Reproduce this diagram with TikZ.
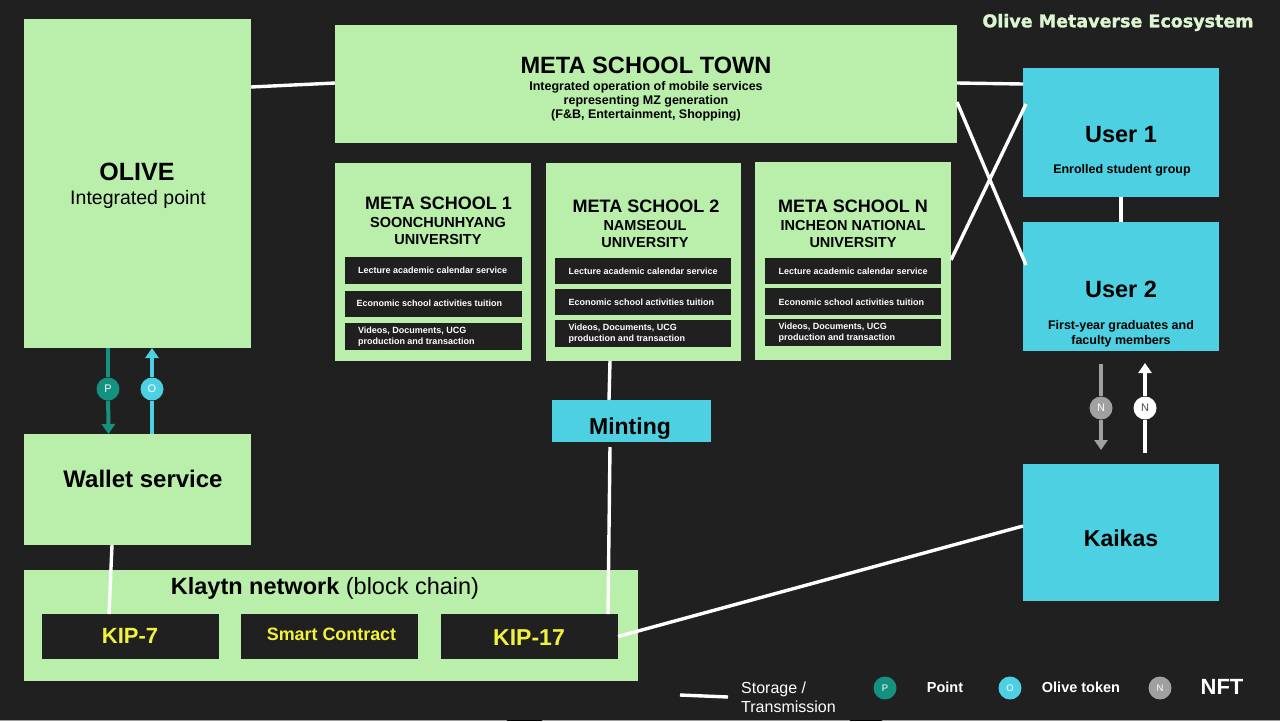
\documentclass[tikz,border=0pt]{standalone}
\usepackage{fontspec}
\setmainfont{Liberation Sans}
\newfontfamily\widefont{DejaVu Sans Bold}[FakeBold=1.6]
\usetikzlibrary{arrows.meta}
\definecolor{bgc}{HTML}{202020}
\definecolor{grn}{HTML}{B9EFAA}
\definecolor{ttl}{HTML}{DDF6D2}
\definecolor{cyn}{HTML}{4DD0E1}
\definecolor{teal1}{HTML}{14917F}
\definecolor{gry}{HTML}{A0A0A0}
\definecolor{yel}{HTML}{F2F23A}
\newcommand{\fs}[1]{\fontsize{#1}{#1}\selectfont}
\tikzset{
 x=1pt,y=-1pt,
 gbox/.style={fill=grn,draw=none,inner sep=0,outer sep=0},
 cbox/.style={fill=cyn,draw=none,inner sep=0,outer sep=0},
 dbox/.style={fill=bgc,draw=none,inner sep=0,outer sep=0},
 lbl/.style={inner sep=0,outer sep=0,text=black,align=center,font=\bfseries},
 wlbl/.style={inner sep=0,outer sep=0,text=white,align=left,font=\bfseries\fs{9}},
 link/.style={draw=white,line width=3.4pt},
 shaft/.style={line width=4pt},
 flow/.style={line width=4pt,-{Triangle[length=10pt,width=13pt]}},
 disc/.style={circle,minimum size=23pt,inner sep=0,font=\fs{11}},
 ldisc/.style={circle,minimum size=23pt,inner sep=0,font=\fs{9.5}},
}
\begin{document}
\begin{tikzpicture}
\useasboundingbox (0,0) rectangle (1280,721);
\fill[bgc] (0,0) rectangle (1280,721);
% green boxes
\node[gbox,anchor=north west,minimum width=227pt,minimum height=329pt] (olive) at (24,19) {};
\node[gbox,anchor=north west,minimum width=622pt,minimum height=118pt] (town) at (335,25) {};
\node[gbox,anchor=north west,minimum width=196pt,minimum height=198pt] (s1) at (335,163) {};
\node[gbox,anchor=north west,minimum width=195pt,minimum height=198pt] (s2) at (546,163) {};
\node[gbox,anchor=north west,minimum width=196pt,minimum height=198pt] (sn) at (755,162) {};
\node[gbox,anchor=north west,minimum width=227pt,minimum height=111pt] (wallet) at (24,434) {};
\node[gbox,anchor=north west,minimum width=614pt,minimum height=111pt] (klaytn) at (24,570) {};
% cyan boxes
\node[cbox,anchor=north west,minimum width=196pt,minimum height=129pt] (u1) at (1023,68) {};
\node[cbox,anchor=north west,minimum width=196pt,minimum height=129pt] (u2) at (1023,222) {};
\node[cbox,anchor=north west,minimum width=196pt,minimum height=137pt] (kaikas) at (1023,464) {};
\node[cbox,anchor=north west,minimum width=159pt,minimum height=42pt] (mint) at (552,400) {};
% dark boxes
\node[dbox,anchor=north west,minimum width=177pt,minimum height=45pt] (kip7) at (42,614) {};
\node[dbox,anchor=north west,minimum width=177pt,minimum height=45pt] (sc) at (241,614) {};
\node[dbox,anchor=north west,minimum width=177pt,minimum height=45pt] (kip17) at (441,614) {};
\node[dbox,anchor=north west,minimum width=177pt,minimum height=27pt] (a1) at (345,257) {};
\node[dbox,anchor=north west,minimum width=177pt,minimum height=26pt] (a2) at (345,291) {};
\node[dbox,anchor=north west,minimum width=177pt,minimum height=27pt] (a3) at (345,323) {};
\node[dbox,anchor=north west,minimum width=176pt,minimum height=26pt] (b1) at (555,258) {};
\node[dbox,anchor=north west,minimum width=176pt,minimum height=26pt] (b2) at (555,289) {};
\node[dbox,anchor=north west,minimum width=176pt,minimum height=27pt] (b3) at (555,320) {};
\node[dbox,anchor=north west,minimum width=176pt,minimum height=26pt] (c1) at (765,258) {};
\node[dbox,anchor=north west,minimum width=176pt,minimum height=27pt] (c2) at (765,288) {};
\node[dbox,anchor=north west,minimum width=176pt,minimum height=27pt] (c3) at (765,319) {};
% connectors
\draw[link] ([yshift=-68pt]olive.north east) -- ([yshift=-58pt]town.north west);
\draw[link] ([yshift=-58pt]town.north east) -- ([yshift=-16pt]u1.north west);
\draw[link] ([yshift=-77pt]town.north east) -- ([shift={(3pt,-43pt)}]u2.north west);
\draw[link] ([yshift=-98pt]sn.north east) -- ([shift={(3pt,-36pt)}]u1.north west);
\draw[link] (u1.south) -- (u2.north);
\draw[link] ([xshift=64pt]s2.south west) -- ([xshift=57pt]mint.north west);
\draw[link] ([shift={(58pt,-5pt)}]mint.south west) -- ([xshift=167pt]kip17.north west);
\draw[link] ([xshift=88pt]wallet.south west) -- ([xshift=67pt]kip7.north west);
\draw[link] (kip17.east) -- ([yshift=-62pt]kaikas.north west);
% flows
\node[disc,fill=teal1,text=white] (p) at (108,389) {P};
\node[disc,fill=cyn,text=white] (o) at (152,389) {O};
\node[disc,fill=gry,text=white] (n1) at (1101,408) {N};
\node[disc,fill=white,text=black!70] (n2) at (1145,408) {N};
\draw[shaft,teal1] ([xshift=84pt]olive.south west) -- (p);
\draw[flow,teal1] (p) -- ([xshift=84.5pt]wallet.north west);
\draw[shaft,cyn] ([xshift=128pt]wallet.north west) -- (o);
\draw[flow,cyn] (o) -- ([xshift=128pt]olive.south west);
\draw[shaft,gry] ([shift={(78pt,-13pt)}]u2.south west) -- (n1);
\draw[flow,gry] (n1) -- ([shift={(78pt,14pt)}]kaikas.north west);
\draw[shaft,white] ([shift={(122pt,11pt)}]kaikas.north west) -- (n2);
\draw[flow,white] (n2) -- ([shift={(122pt,-12pt)}]u2.south west);
% labels
\node[lbl,font=\bfseries\fs{25}] (tolive) at (137,172) {OLIVE};
\node[lbl,font=\fs{19.5}] (tint) at (138,199) {Integrated point};
\node[lbl,font=\bfseries\fs{23.6}] (ttown) at (646,65) {META SCHOOL TOWN};
\node[lbl,font=\bfseries\fs{12.5}] (ttown2) at (646,101.5) {Integrated operation of mobile services\\[1.5pt]representing MZ generation\\[1.5pt](F\&B, Entertainment, Shopping)};
\node[lbl,font=\bfseries\fs{18}] (ts1) at (438.5,203) {META SCHOOL 1};
\node[lbl,font=\bfseries\fs{14.5}] (ts1b) at (438,231) {SOONCHUNHYANG\\[3pt]UNIVERSITY};
\node[lbl,font=\bfseries\fs{18}] (ts2) at (646,206) {META SCHOOL 2};
\node[lbl,font=\bfseries\fs{14.5}] (ts2b) at (645,234) {NAMSEOUL\\[3pt]UNIVERSITY};
\node[lbl,font=\bfseries\fs{18}] (tsn) at (853,206) {META SCHOOL N};
\node[lbl,font=\bfseries\fs{14.5}] (tsnb) at (853,234) {INCHEON NATIONAL\\[3pt]UNIVERSITY};
\node[wlbl,anchor=west] at (358,270) {Lecture academic calendar service};
\node[wlbl,anchor=west] at (356.5,303.5) {Economic school activities tuition};
\node[wlbl,anchor=west] at (358,337) {Videos, Documents, UCG\\[1.8pt]production and transaction};
\node[wlbl,anchor=west] at (568.5,271.5) {Lecture academic calendar service};
\node[wlbl,anchor=west] at (568.5,302) {Economic school activities tuition};
\node[wlbl,anchor=west] at (568.5,334) {Videos, Documents, UCG\\[1.8pt]production and transaction};
\node[wlbl,anchor=west] at (778.5,271.5) {Lecture academic calendar service};
\node[wlbl,anchor=west] at (778.5,302) {Economic school activities tuition};
\node[wlbl,anchor=west] at (778.5,333) {Videos, Documents, UCG\\[1.8pt]production and transaction};
\node[lbl,font=\bfseries\fs{23}] (tmint) at (630,428.5) {Minting};
\node[lbl,font=\bfseries\fs{24}] (twal) at (143,479) {Wallet service};
\node[lbl,font=\fs{23.5}] (tkl) at (325,588) {\textbf{Klaytn network} (block chain)};
\node[lbl,font=\bfseries\fs{22},text=yel] (t7) at (130,635.5) {KIP-7};
\node[lbl,font=\bfseries\fs{17.9},text=yel] (tsc) at (331.5,634) {Smart Contract};
\node[lbl,font=\bfseries\fs{23},text=yel] (t17) at (529,637.5) {KIP-17};
\node[lbl,font=\bfseries\fs{23.5}] (tu1) at (1121,134.5) {User 1};
\node[lbl,font=\bfseries\fs{12.5}] (tu1b) at (1122,170.5) {Enrolled student group};
\node[lbl,font=\bfseries\fs{23.5}] (tu2) at (1121,289.5) {User 2};
\node[lbl,font=\bfseries\fs{12.5}] (tu2b) at (1121,334) {First-year graduates and\\[3pt]faculty members};
\node[lbl,font=\bfseries\fs{23}] (tk) at (1121,538) {Kaikas};
\node[inner sep=0,text=ttl,font=\widefont\fs{17.5}] (title) at (1118,22.5) {Olive Metaverse Ecosystem};
% legend
\coordinate (l1) at (680,695);
\coordinate (l2) at (728,697);
\draw[link] (l1) -- (l2);
\node[inner sep=0,text=white,align=left,anchor=west,font=\fs{16}] (ltr) at (741,697.5) {Storage /\\[3pt]Transmission};
\node[ldisc,fill=teal1,text=white] (lp) at (885,688) {P};
\node[inner sep=0,text=white,font=\bfseries\fs{14.5}] (lpt) at (945,687.5) {Point};
\node[ldisc,fill=cyn,text=white] (lo) at (1010,688) {O};
\node[inner sep=0,text=white,font=\bfseries\fs{14.5}] (lot) at (1081,687.5) {Olive token};
\node[ldisc,fill=gry,text=white] (ln) at (1160,688) {N};
\node[inner sep=0,text=white,font=\bfseries\fs{22}] (lnt) at (1222,687) {NFT};
% bottom edge of the picture
\fill[gry] (0,720) rectangle (1280,721);
\fill[black] (507,720) rectangle (542,721);
\fill[black] (850,720) rectangle (882,721);
\end{tikzpicture}
\end{document}
